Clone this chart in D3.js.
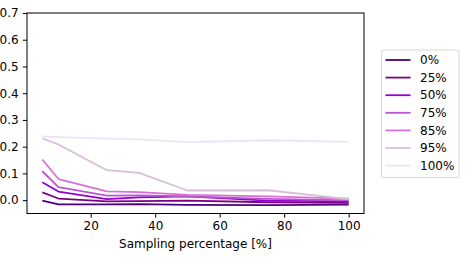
<!doctype html>
<html lang="en">
<head>
<meta charset="UTF-8" />
<title>Sampling percentage</title>
<script src="https://cdn.jsdelivr.net/npm/d3@7"></script>
<style>
  body { margin: 0; background: #fff; }
  text { font-family: "DejaVu Sans", sans-serif; fill: #000; }
</style>
</head>
<body>
<svg id="chart" width="468" height="260"></svg>
<script>
// data
const samplingPct = [5, 10, 25, 35, 50, 75, 100];
const seriesNames = ["0%", "25%", "50%", "75%", "85%", "95%", "100%"];
const seriesColors = ["#4b0082", "#800080", "#9400d3", "#ba55d3", "#da70d6", "#d8bfd8", "#e6e6fa"];
const vals0   = [-0.002, -0.016, -0.016, -0.015, -0.018, -0.019, -0.017];
const vals25  = [0.029, 0.006, -0.005, -0.004, -0.002, -0.008, -0.010];
const vals50  = [0.067, 0.032, 0.004, 0.010, 0.014, -0.002, -0.005];
const vals75  = [0.108, 0.049, 0.017, 0.018, 0.014, 0.005, -0.001];
const vals85  = [0.152, 0.079, 0.033, 0.030, 0.020, 0.014, 0.006];
const vals95  = [0.231, 0.208, 0.112, 0.102, 0.036, 0.037, 0.004];
const vals100 = [0.238, 0.236, 0.230, 0.227, 0.217, 0.224, 0.218];
const allVals = [vals0, vals25, vals50, vals75, vals85, vals95, vals100];
const yTicks = [0.0, 0.1, 0.2, 0.3, 0.4, 0.5, 0.6, 0.7];
const xTicks = [20, 40, 60, 80, 100];

const svg = d3.select("#chart");
const plotL = 27, plotR = 364, plotT = 13, plotB = 213.5;
const fs = 12;

const x = d3.scaleLinear().domain([0.25, 104.75]).range([plotL, plotR]);
const y = d3.scaleLinear().domain([-0.05, 0.7]).range([plotB, plotT]);

const line = d3.line()
  .x((d, i) => x(samplingPct[i]))
  .y(d => y(d));

// lines
allVals.forEach((vals, k) => {
  svg.append("path")
    .attr("d", line(vals))
    .attr("fill", "none")
    .attr("stroke", seriesColors[k])
    .attr("stroke-width", 1.8)
    .attr("stroke-linejoin", "round");
});

// frame
svg.append("rect")
  .attr("x", plotL).attr("y", plotT)
  .attr("width", plotR - plotL).attr("height", plotB - plotT)
  .attr("fill", "none").attr("stroke", "#000").attr("stroke-width", 1);

// axes
const xAxis = d3.axisBottom(x).tickValues(xTicks).tickFormat(d3.format("d"))
  .tickSizeInner(4.2).tickSizeOuter(0).tickPadding(4.2);
const yAxis = d3.axisLeft(y).tickValues(yTicks).tickFormat(d3.format(".1f"))
  .tickSizeInner(4.2).tickSizeOuter(0).tickPadding(4.2);

const gx = svg.append("g").attr("transform", `translate(0,${plotB})`).call(xAxis);
const gy = svg.append("g").attr("transform", `translate(${plotL},0)`).call(yAxis);
[gx, gy].forEach(g => {
  g.select(".domain").remove();
  g.selectAll(".tick line").attr("stroke", "#000").attr("stroke-width", 1);
  g.selectAll(".tick text").attr("font-size", fs).attr("fill", "#000")
    .style("font-family", "DejaVu Sans");
});

svg.append("text")
  .attr("x", (plotL + plotR) / 2).attr("y", 248)
  .attr("text-anchor", "middle").attr("font-size", fs)
  .text("Sampling percentage [%]");

// legend
const lg = svg.append("g").attr("transform", "translate(381.5,50)");
lg.append("rect")
  .attr("width", 77.5).attr("height", 127.5)
  .attr("rx", 2).attr("fill", "#fff")
  .attr("stroke", "#d6d6d6").attr("stroke-width", 1);
seriesNames.forEach((name, k) => {
  const yy = 10 + k * 17.6;
  lg.append("line")
    .attr("x1", 4).attr("x2", 29).attr("y1", yy).attr("y2", yy)
    .attr("stroke", seriesColors[k]).attr("stroke-width", 1.8);
  lg.append("text")
    .attr("x", 38.5).attr("y", yy).attr("dy", "0.35em")
    .attr("font-size", fs).text(name);
});
</script>
</body>
</html>
